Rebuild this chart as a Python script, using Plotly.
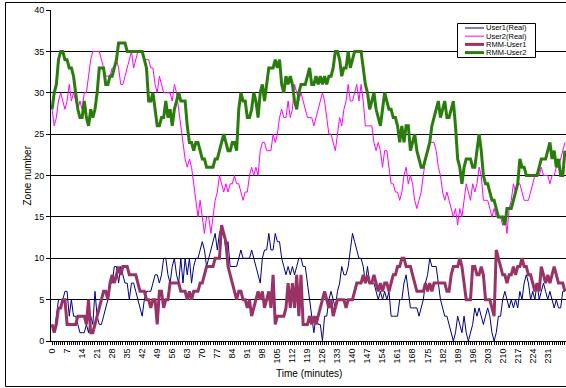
import plotly.graph_objects as go

# Time axis: one sample per minute
minutes = list(range(240))

user1_real = [
    2, 1, 3, 5, 5, 5, 6, 6, 3, 5, 3, 3, 2, 1, 1, 1, 2, 1, 3, 2,
    6, 3, 2, 2, 3, 4, 5, 7, 7, 9, 9, 7, 9, 8, 7, 7, 5, 7, 7, 6,
    5, 4, 3, 5, 6, 6, 6, 7, 8, 8, 7, 8, 10, 10, 8, 7, 9, 10, 8, 7,
    10, 7, 10, 8, 10, 7, 9, 10, 10, 11, 12, 11, 9, 10, 11, 12, 13, 11, 13, 14,
    13, 11, 12, 9, 9, 9, 9, 10, 11, 10, 10, 10, 10, 11, 10, 9, 8, 7, 10, 11,
    11, 13, 11, 11, 13, 12, 12, 10, 9, 8, 9, 8, 9, 8, 9, 10, 10, 9, 9, 7,
    5, 3, 1, 3, 2, 2, 0, 3, 3, 5, 6, 5, 4, 6, 7, 9, 8, 8, 9, 11,
    13, 12, 11, 10, 10, 9, 7, 9, 7, 7, 7, 6, 5, 6, 5, 6, 5, 6, 3, 3,
    3, 3, 5, 5, 7, 8, 6, 4, 4, 4, 4, 3, 4, 5, 7, 8, 10, 9, 9, 9,
    7, 5, 4, 3, 3, 2, 1, 0, 1, 3, 2, 1, 3, 1, 0, 1, 2, 4, 3, 4,
    3, 2, 3, 4, 3, 1, 0, 1, 3, 3, 5, 6, 5, 4, 5, 4, 5, 4, 6, 5,
    7, 8, 7, 5, 6, 5, 7, 5, 6, 7, 6, 5, 6, 5, 4, 5, 4, 4, 6, 6,
]

user2_real = [
    28, 26, 27, 29, 30, 29, 28, 29, 31, 29, 30, 29, 28, 29, 28, 30, 30, 32, 34, 35,
    35, 35, 35, 34, 33, 32, 32, 32, 33, 33, 34, 33, 31, 31, 32, 33, 34, 35, 33, 34,
    35, 35, 35, 34, 34, 34, 33, 33, 31, 30, 32, 31, 30, 30, 30, 30, 29, 31, 30, 28,
    26, 24, 22, 21, 22, 21, 19, 17, 15, 17, 15, 13, 15, 15, 13, 15, 17, 18, 20, 19,
    18, 19, 18, 19, 19, 20, 19, 19, 18, 17, 18, 18, 20, 21, 20, 21, 20, 23, 24, 24,
    23, 23, 23, 25, 24, 25, 27, 28, 27, 27, 29, 27, 28, 31, 30, 29, 30, 29, 28, 27,
    27, 27, 26, 27, 28, 29, 30, 29, 27, 25, 25, 24, 23, 25, 27, 26, 28, 29, 31, 29,
    29, 30, 31, 29, 31, 29, 26, 26, 26, 26, 24, 23, 24, 23, 21, 23, 23, 21, 19, 19,
    18, 18, 17, 18, 20, 21, 19, 20, 19, 17, 16, 17, 18, 20, 22, 23, 24, 24, 24, 23,
    21, 20, 18, 17, 18, 17, 16, 15, 16, 14, 16, 15, 17, 19, 18, 17, 19, 18, 19, 21,
    20, 17, 17, 17, 16, 15, 16, 15, 15, 15, 14, 15, 13, 16, 17, 19, 18, 19, 19, 18,
    17, 17, 17, 18, 19, 20, 20, 20, 21, 20, 20, 20, 19, 20, 20, 21, 21, 22, 23, 24,
]

rmm_user1 = [
    2, 1, 2, 4, 4, 5, 5, 2, 2, 2, 2, 2, 3, 3, 3, 3, 2, 5, 1, 1,
    2, 3, 4, 5, 6, 6, 5, 7, 8, 7, 8, 9, 8, 9, 9, 9, 8, 8, 8, 8,
    7, 6, 6, 6, 5, 5, 4, 5, 5, 2, 6, 6, 4, 5, 5, 7, 7, 7, 7, 7,
    6, 6, 6, 5, 6, 5, 6, 6, 6, 7, 7, 8, 9, 9, 9, 9, 10, 10, 10, 14,
    13, 12, 9, 8, 7, 6, 5, 6, 6, 5, 5, 4, 5, 3, 4, 5, 6, 5, 6, 4,
    5, 6, 4, 8, 2, 3, 3, 3, 3, 4, 7, 4, 7, 4, 8, 3, 8, 2, 2, 2,
    3, 2, 3, 2, 3, 4, 5, 6, 5, 4, 5, 3, 4, 5, 5, 5, 5, 4, 5, 5,
    5, 6, 7, 7, 7, 8, 7, 8, 7, 7, 8, 7, 6, 7, 6, 7, 7, 6, 7, 8,
    8, 9, 9, 10, 10, 9, 9, 9, 8, 7, 6, 6, 6, 6, 7, 6, 7, 6, 7, 7,
    7, 7, 7, 7, 6, 6, 8, 9, 9, 9, 10, 9, 7, 5, 5, 5, 9, 9, 8, 8,
    9, 8, 5, 5, 5, 4, 3, 11, 10, 9, 8, 8, 7, 8, 8, 9, 8, 9, 9, 10,
    9, 9, 8, 8, 7, 6, 7, 6, 9, 8, 7, 8, 7, 8, 9, 8, 7, 7, 7, 6,
]

rmm_user2 = [
    28, 30, 31, 34, 35, 35, 34, 34, 33, 33, 32, 30, 28, 27, 27, 29, 27, 26, 28, 27,
    28, 30, 33, 33, 33, 31, 31, 32, 32, 33, 34, 36, 36, 36, 36, 35, 35, 35, 35, 35,
    35, 35, 35, 34, 33, 29, 29, 30, 28, 26, 26, 27, 27, 29, 27, 28, 26, 28, 29, 30,
    29, 29, 29, 26, 24, 24, 23, 24, 24, 23, 22, 22, 21, 21, 21, 21, 22, 22, 23, 24,
    25, 24, 23, 23, 24, 24, 23, 28, 30, 29, 29, 27, 27, 28, 30, 29, 27, 30, 31, 29,
    31, 33, 33, 33, 34, 33, 34, 31, 30, 32, 31, 32, 31, 29, 28, 30, 31, 31, 31, 32,
    33, 31, 31, 32, 31, 32, 31, 32, 31, 32, 32, 33, 35, 35, 34, 32, 33, 33, 35, 33,
    34, 35, 35, 35, 35, 33, 31, 30, 28, 29, 30, 28, 27, 26, 28, 30, 29, 28, 28, 27,
    27, 26, 24, 26, 24, 26, 26, 23, 24, 25, 23, 22, 21, 21, 22, 23, 24, 26, 27, 28,
    29, 27, 28, 29, 27, 27, 28, 29, 26, 22, 21, 19, 21, 22, 22, 22, 21, 21, 23, 25,
    23, 20, 19, 19, 18, 17, 17, 16, 15, 15, 15, 14, 16, 16, 16, 17, 18, 19, 22, 21,
    21, 20, 20, 20, 20, 20, 20, 21, 22, 22, 22, 23, 24, 22, 23, 21, 22, 20, 20, 23,
]

series_names = ["User1(Real)", "User2(Real)", "RMM-User1", "RMM-User2"]
series_values = [user1_real, user2_real, rmm_user1, rmm_user2]
series_colors = ["#000080", "#FF00FF", "#993366", "#2A7D0C"]
series_widths = [1, 1, 3, 3]

y_ticks = [0, 5, 10, 15, 20, 25, 30, 35, 40]
x_tick_labels = [str(m) if m % 7 == 0 else "" for m in minutes]

FONT = "Liberation Sans, Arial, sans-serif"

fig = go.Figure()
for name, vals, col, w in zip(series_names, series_values, series_colors, series_widths):
    fig.add_trace(go.Scatter(
        x=minutes, y=vals, mode="lines", name=name,
        line=dict(color=col, width=w), showlegend=False,
    ))

# plot-area geometry in pixels (used to place the frame and legend)
W, H = 566, 388
L, R, T, B = 51, 0, 10, 47
pw, ph = W - L - R, H - T - B


def px(x):
    return (x - L) / pw


def py(y):
    return (H - B - y) / ph


shapes = [
    # outer chart frame
    dict(type="rect", xref="paper", yref="paper",
         x0=px(5.5), x1=px(580), y0=py(386.5), y1=py(2.5),
         line=dict(color="black", width=1), fillcolor="rgba(0,0,0,0)", layer="above"),
    # legend box
    dict(type="rect", xref="paper", yref="paper",
         x0=px(457.5), x1=px(535.5), y0=py(57.5), y1=py(23.5),
         line=dict(color="black", width=1), fillcolor="white", layer="above"),
]
annotations = []
row_y = [28, 36.2, 44.4, 52.6]
for name, col, w, ry in zip(series_names, series_colors, series_widths, row_y):
    shapes.append(dict(type="line", xref="paper", yref="paper",
                       x0=px(465), x1=px(484), y0=py(ry), y1=py(ry),
                       line=dict(color=col, width=w), layer="above"))
    annotations.append(dict(xref="paper", yref="paper", x=px(485), y=py(ry),
                            text=name, showarrow=False, xanchor="left", yanchor="middle",
                            borderpad=0,
                            font=dict(family=FONT, size=7.5, color="black")))

annotations.append(dict(xref="paper", yref="paper", x=px(27), y=0.5, text="Zone number",
                        textangle=-90, showarrow=False, xanchor="center", yanchor="middle",
                        font=dict(family=FONT, size=10, color="black")))
annotations.append(dict(xref="paper", yref="paper", x=0.5, y=py(373), text="Time (minutes)",
                        showarrow=False, xanchor="center", yanchor="middle",
                        font=dict(family=FONT, size=10, color="black")))

fig.update_layout(
    width=W, height=H,
    margin=dict(l=L, r=R, t=T, b=B, autoexpand=False),
    paper_bgcolor="white", plot_bgcolor="white",
    font=dict(family=FONT, size=9, color="black"),
    shapes=shapes, annotations=annotations,
    showlegend=False,
)
fig.update_xaxes(
    range=[-0.5, 239.5], tickmode="array", tickvals=minutes, ticktext=x_tick_labels,
    tickangle=-90, ticks="outside", ticklen=3, tickwidth=1, tickcolor="black",
    showline=True, linecolor="black", linewidth=1, showgrid=False, zeroline=False,
    tickfont=dict(family=FONT, size=9, color="black"), automargin=False,
)
fig.update_yaxes(
    range=[0, 40], tickmode="array", tickvals=y_ticks, ticks="outside", ticklen=4,
    tickcolor="black", showline=True, linecolor="black", linewidth=1,
    showgrid=True, gridcolor="black", gridwidth=1, zeroline=False,
    tickfont=dict(family=FONT, size=9, color="black"), automargin=False,
)

fig.write_html("out.html")
